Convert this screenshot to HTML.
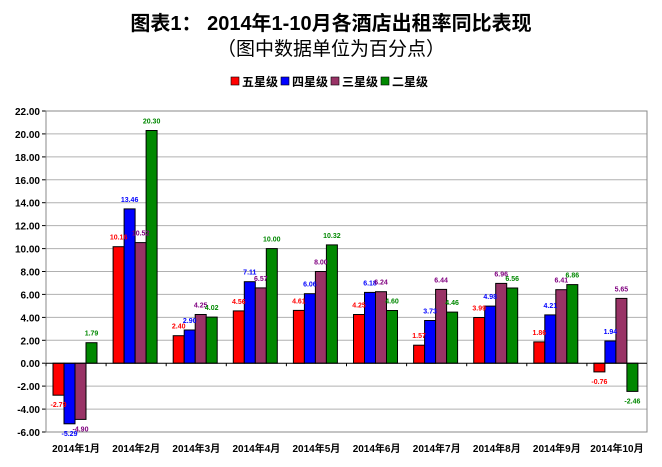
<!DOCTYPE html>
<html><head><meta charset="utf-8"><style>
body{margin:0;background:#fff;}
svg{display:block;font-family:"Liberation Sans","Noto Sans CJK SC",sans-serif;}
</style></head><body>
<svg id="c" width="662" height="467" xmlns="http://www.w3.org/2000/svg">
<rect width="662" height="467" fill="#fff"/>
<text x="331" y="30" text-anchor="middle" font-size="20" font-weight="bold" font-family="'Liberation Sans','Noto Sans CJK SC',sans-serif">图表1：   2014年1-10月各酒店出租率同比表现</text>
<text x="331" y="55" text-anchor="middle" font-size="19" font-family="'Liberation Sans','Noto Sans CJK SC',sans-serif">（图中数据单位为百分点）</text>
<g font-size="12" font-weight="bold">
<rect x="231" y="77" width="8" height="8" fill="#f00" stroke="#000" stroke-width="0.6"/><text x="242" y="86">五星级</text>
<rect x="281" y="77" width="8" height="8" fill="#00f" stroke="#000" stroke-width="0.6"/><text x="292" y="86">四星级</text>
<rect x="331" y="77" width="8" height="8" fill="#936" stroke="#000" stroke-width="0.6"/><text x="342" y="86">三星级</text>
<rect x="381" y="77" width="8" height="8" fill="#080" stroke="#000" stroke-width="0.6"/><text x="392" y="86">二星级</text>
</g>
<g id="g"></g>
</svg>
<script>
(function(){
var g=document.getElementById('g'),s='';
var T=111,B=432,Lf=46,Rt=647,sc=(B-T)/28,z=T+22*sc;
function y(v){return z-v*sc;}
for(var v=-6;v<=22;v+=2){var yy=y(v).toFixed(1);
 if(v!=0) s+='<line x1="'+Lf+'" x2="'+Rt+'" y1="'+yy+'" y2="'+yy+'" stroke="#b0b0b0"/>';
 s+='<line x1="'+(Lf-4)+'" x2="'+Lf+'" y1="'+yy+'" y2="'+yy+'" stroke="#000"/>';
 s+='<text x="40" y="'+(+yy+4)+'" text-anchor="end" font-size="10" font-weight="bold">'+v.toFixed(2)+'</text>';}
s+='<rect x="'+Lf+'" y="'+T+'" width="'+(Rt-Lf)+'" height="'+(B-T)+'" fill="none" stroke="#888"/>';
var d=[[-2.79,-5.29,-4.90,1.79],[10.16,13.46,10.52,20.30],[2.40,2.90,4.25,4.02],[4.56,7.11,6.57,10.00],[4.61,6.06,8.00,10.32],[4.25,6.18,6.24,4.60],[1.57,3.73,6.44,4.46],[3.99,4.98,6.96,6.56],[1.86,4.21,6.41,6.86],[-0.76,1.94,5.65,-2.46]];
var cf=['#f00','#00f','#936','#080'],cl=['#f00','#00f','#800080','#080'];
var cw=(Rt-Lf)/10,bw=11;
var lb='';
for(var i=0;i<10;i++){var x0=Lf+cw*i+7;
 for(var j=0;j<4;j++){var v=d[i][j],x=x0+j*bw,y1=Math.min(y(v),z),h=Math.abs(v*sc);
  s+='<rect x="'+x.toFixed(1)+'" y="'+y1.toFixed(1)+'" width="'+bw+'" height="'+h.toFixed(1)+'" fill="'+cf[j]+'" stroke="#000" stroke-width="1"/>';
  var ly=v>=0?y(v)-7:y(v)+12;
  lb+='<text x="'+(x+bw/2).toFixed(1)+'" y="'+ly.toFixed(1)+'" text-anchor="middle" font-size="7" font-weight="bold" fill="'+cl[j]+'">'+v.toFixed(2)+'</text>';}
 s+='<text x="'+(Lf+cw*i+cw/2).toFixed(1)+'" y="452" text-anchor="middle" font-size="10" font-weight="bold">2014年'+(i+1)+'月</text>';
 s+='<line x1="'+(Lf+cw*i).toFixed(1)+'" x2="'+(Lf+cw*i).toFixed(1)+'" y1="'+z+'" y2="'+(z+3)+'" stroke="#000"/>';}
s+='<line x1="'+Lf+'" x2="'+Rt+'" y1="'+z+'" y2="'+z+'" stroke="#000"/>';
g.innerHTML=s+lb;
})();
</script>
</body></html>
